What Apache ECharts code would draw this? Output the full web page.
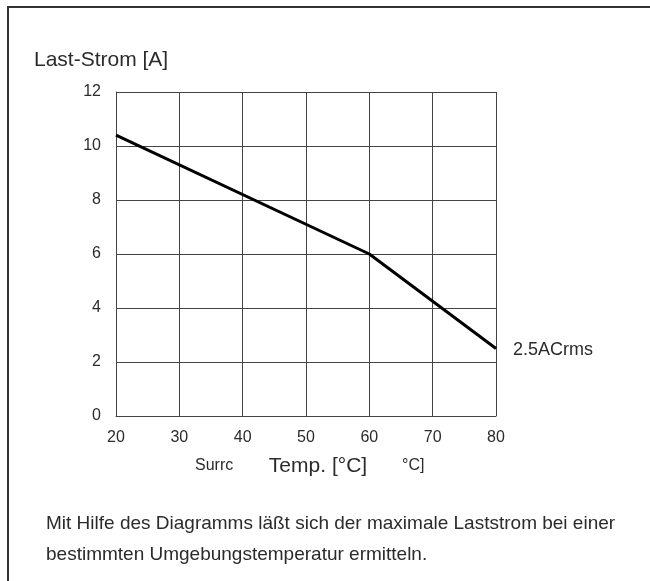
<!DOCTYPE html>
<html>
<head>
<meta charset="UTF-8">
<title>Last-Strom</title>
<script src="https://cdn.jsdelivr.net/npm/echarts@6/dist/echarts.min.js"></script>
<style>
  html, body { margin: 0; padding: 0; background: #fff; }
  #chart { width: 650px; height: 581px; }
</style>
</head>
<body>
<div id="chart"></div>
<script>
// Daten
var tempPoints = [20, 60, 80];
var currentPoints = [10.4, 6.0, 2.5];
var xTicks = [20, 30, 40, 50, 60, 70, 80];
var yTicks = [0, 2, 4, 6, 8, 10, 12];
var endLabel = '2.5ACrms';
var note = ['Mit Hilfe des Diagramms läßt sich der maximale Laststrom bei einer',
            'bestimmten Umgebungstemperatur ermitteln.'];

var font = "'Liberation Sans', Arial, sans-serif";
var ink = '#2b2b2b';

var chart = echarts.init(document.getElementById('chart'));
var lineData = tempPoints.map(function (t, i) { return [t, currentPoints[i]]; });

var option = {
    animation: false,
    backgroundColor: '#fff',
    grid: { left: 116, top: 92, right: 154, bottom: 165 },
    xAxis: {
        type: 'value',
        min: xTicks[0],
        max: xTicks[xTicks.length - 1],
        interval: 10,
        name: 'Temp. [°C]',
        nameLocation: 'middle',
        nameGap: 40,
        nameTextStyle: { fontFamily: font, fontSize: 21, color: ink, padding: [0, 0, 0, 24] },
        axisLine: { lineStyle: { color: '#444', width: 1 } },
        axisTick: { show: false },
        axisLabel: { fontFamily: font, fontSize: 16, color: ink, margin: 14 },
        splitLine: { show: true, lineStyle: { color: '#444', width: 1 } }
    },
    yAxis: {
        type: 'value',
        min: yTicks[0],
        max: yTicks[yTicks.length - 1],
        interval: 2,
        axisLine: { show: true, lineStyle: { color: '#444', width: 1 } },
        axisTick: { show: false },
        axisLabel: { fontFamily: font, fontSize: 16, color: ink, margin: 15 },
        splitLine: { show: true, lineStyle: { color: '#444', width: 1 } }
    },
    graphic: [
        { type: 'polyline', silent: true,
          shape: { points: [[8, 581], [8, 7], [650, 7]] },
          style: { stroke: '#333', lineWidth: 2, fill: null } },
        { type: 'text', left: 34, top: 50,
          style: { text: 'Last-Strom [A]', font: '21px ' + font, fill: ink } },
        { type: 'text', left: 195, top: 458,
          style: { text: 'Surrc', font: '16px ' + font, fill: ink } },
        { type: 'text', left: 402, top: 458,
          style: { text: '°C]', font: '16px ' + font, fill: ink } },
        { type: 'text', left: 46, top: 514,
          style: { text: note[0], font: '19px ' + font, fill: ink } },
        { type: 'text', left: 46, top: 545,
          style: { text: note[1], font: '19px ' + font, fill: ink } }
    ],
    series: [{
        type: 'line',
        data: lineData,
        symbol: 'none',
        lineStyle: { color: '#000', width: 3 },
        endLabel: {
            show: true,
            formatter: function () { return endLabel; },
            fontFamily: font, fontSize: 18, color: ink,
            distance: 17,
            offset: [0, 2]
        }
    }]
};
chart.setOption(option);
</script>
</body>
</html>
